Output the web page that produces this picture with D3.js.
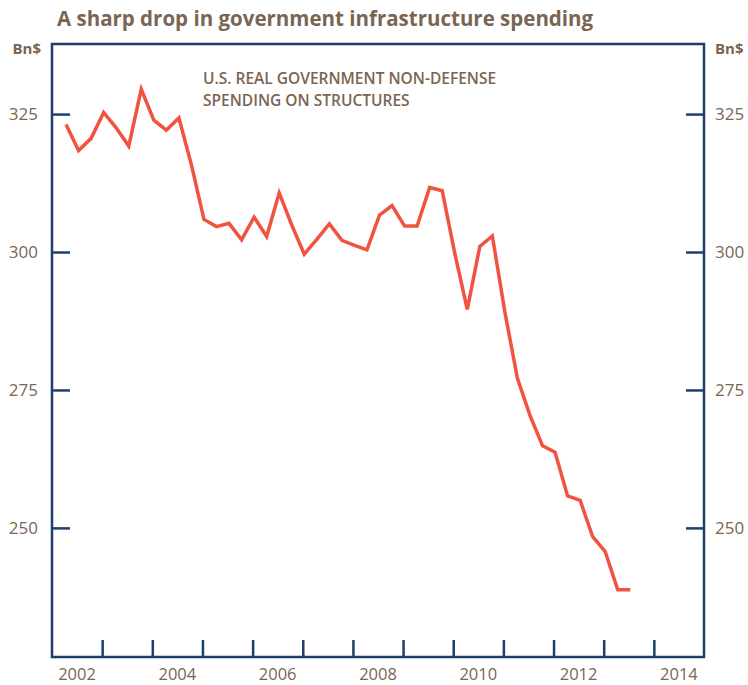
<html>
<head>
<script src="https://cdn.jsdelivr.net/npm/d3@7"></script>
<style>
  body { margin: 0; background: #fff; }
  text { font-family: "Open Sans", sans-serif; fill: #7a6553; }
</style>
</head>
<body>
<svg width="748" height="685"></svg>
<script>
// quarterly, 2002Q1 .. 2013Q2
var years = [2002, 2003, 2004, 2005, 2006, 2007, 2008, 2009, 2010, 2011, 2012, 2013];
var spending = [
  323.1, 318.4, 320.6, 325.3,
  322.5, 319.2, 329.5, 323.9,
  322.1, 324.3, 315.8, 305.9,
  304.6, 305.2, 302.2, 306.3,
  302.8, 310.7, 304.9, 299.6,
  302.3, 305.1, 302.1, 301.2,
  300.4, 306.7, 308.4, 304.7,
  304.7, 311.7, 311.1, 299.8,
  289.6, 301.0, 302.9, 289.1,
  277.1, 270.4, 264.9, 263.7,
  255.8, 255.0, 248.4, 245.7,
  238.8, 238.8
];
var yTicks = [250, 275, 300, 325];
var xLabels = [2002, 2004, 2006, 2008, 2010, 2012, 2014];
var xTicks = [2003, 2004, 2005, 2006, 2007, 2008, 2009, 2010, 2011, 2012, 2013, 2014];

var plotL = 52, plotR = 704, plotT = 44, plotB = 657;
var navy = "#1c3f6b";

var data = spending.map(function(v, i) {
  var yr = years[Math.floor(i / 4)];
  return { t: yr + (i % 4 + 1) / 4 + 0.03, v: v };
});

var x = d3.scaleLinear().domain([2002, 2015]).range([plotL, plotR]);
var y = d3.scaleLinear().domain([226.6, 337.7]).range([plotB, plotT]);

var svg = d3.select("svg");

svg.append("text")
  .attr("x", 57).attr("y", 26)
  .style("font-size", "20.5px").style("font-weight", "bold")
  .text("A sharp drop in government infrastructure spending");

// frame
svg.append("rect")
  .attr("x", plotL).attr("y", plotT)
  .attr("width", plotR - plotL).attr("height", plotB - plotT)
  .style("fill", "none").style("stroke", navy).style("stroke-width", 2.5);

// y ticks, both sides pointing inward
svg.append("g")
  .attr("transform", "translate(" + plotL + ",0)")
  .call(d3.axisRight(y).tickValues(yTicks).tickSize(18).tickFormat(""))
  .call(function(g) { g.select(".domain").remove(); })
  .selectAll("line").style("stroke", navy).style("stroke-width", 2.5);

svg.append("g")
  .attr("transform", "translate(" + plotR + ",0)")
  .call(d3.axisLeft(y).tickValues(yTicks).tickSize(18).tickFormat(""))
  .call(function(g) { g.select(".domain").remove(); })
  .selectAll("line").style("stroke", navy).style("stroke-width", 2.5);

svg.selectAll(".ylabL").data(yTicks).enter().append("text")
  .attr("x", 38).attr("y", function(d) { return y(d); })
  .attr("dy", "0.35em").attr("text-anchor", "end")
  .style("font-size", "17px")
  .text(function(d) { return d; });

svg.selectAll(".ylabR").data(yTicks).enter().append("text")
  .attr("x", 715).attr("y", function(d) { return y(d); })
  .attr("dy", "0.35em")
  .style("font-size", "17px")
  .text(function(d) { return d; });

svg.append("text").attr("x", 41).attr("y", 54).attr("text-anchor", "end")
  .style("font-size", "15px").style("font-weight", "bold").text("Bn$");
svg.append("text").attr("x", 715).attr("y", 54)
  .style("font-size", "15px").style("font-weight", "bold").text("Bn$");

// x ticks pointing up from the bottom
svg.append("g")
  .attr("transform", "translate(0," + plotB + ")")
  .call(d3.axisTop(x).tickValues(xTicks).tickSize(17).tickFormat(""))
  .call(function(g) { g.select(".domain").remove(); })
  .selectAll("line").style("stroke", navy).style("stroke-width", 2.5);

svg.selectAll(".xlab").data(xLabels).enter().append("text")
  .attr("x", function(d) { return x(d + 0.5); })
  .attr("y", 680).attr("text-anchor", "middle")
  .style("font-size", "16.5px")
  .text(function(d) { return d; });

// note
svg.append("text").attr("x", 203).attr("y", 84)
  .style("font-size", "15.5px").style("font-weight", "600")
  .text("U.S. REAL GOVERNMENT NON-DEFENSE");
svg.append("text").attr("x", 203).attr("y", 106)
  .style("font-size", "15.5px").style("font-weight", "600")
  .text("SPENDING ON STRUCTURES");

var line = d3.line()
  .x(function(d) { return x(d.t); })
  .y(function(d) { return y(d.v); });

svg.append("path")
  .datum(data)
  .attr("d", line)
  .style("fill", "none")
  .style("stroke", "#f0533f")
  .style("stroke-width", 3.5)
  .style("stroke-linejoin", "miter");
</script>
</body>
</html>
